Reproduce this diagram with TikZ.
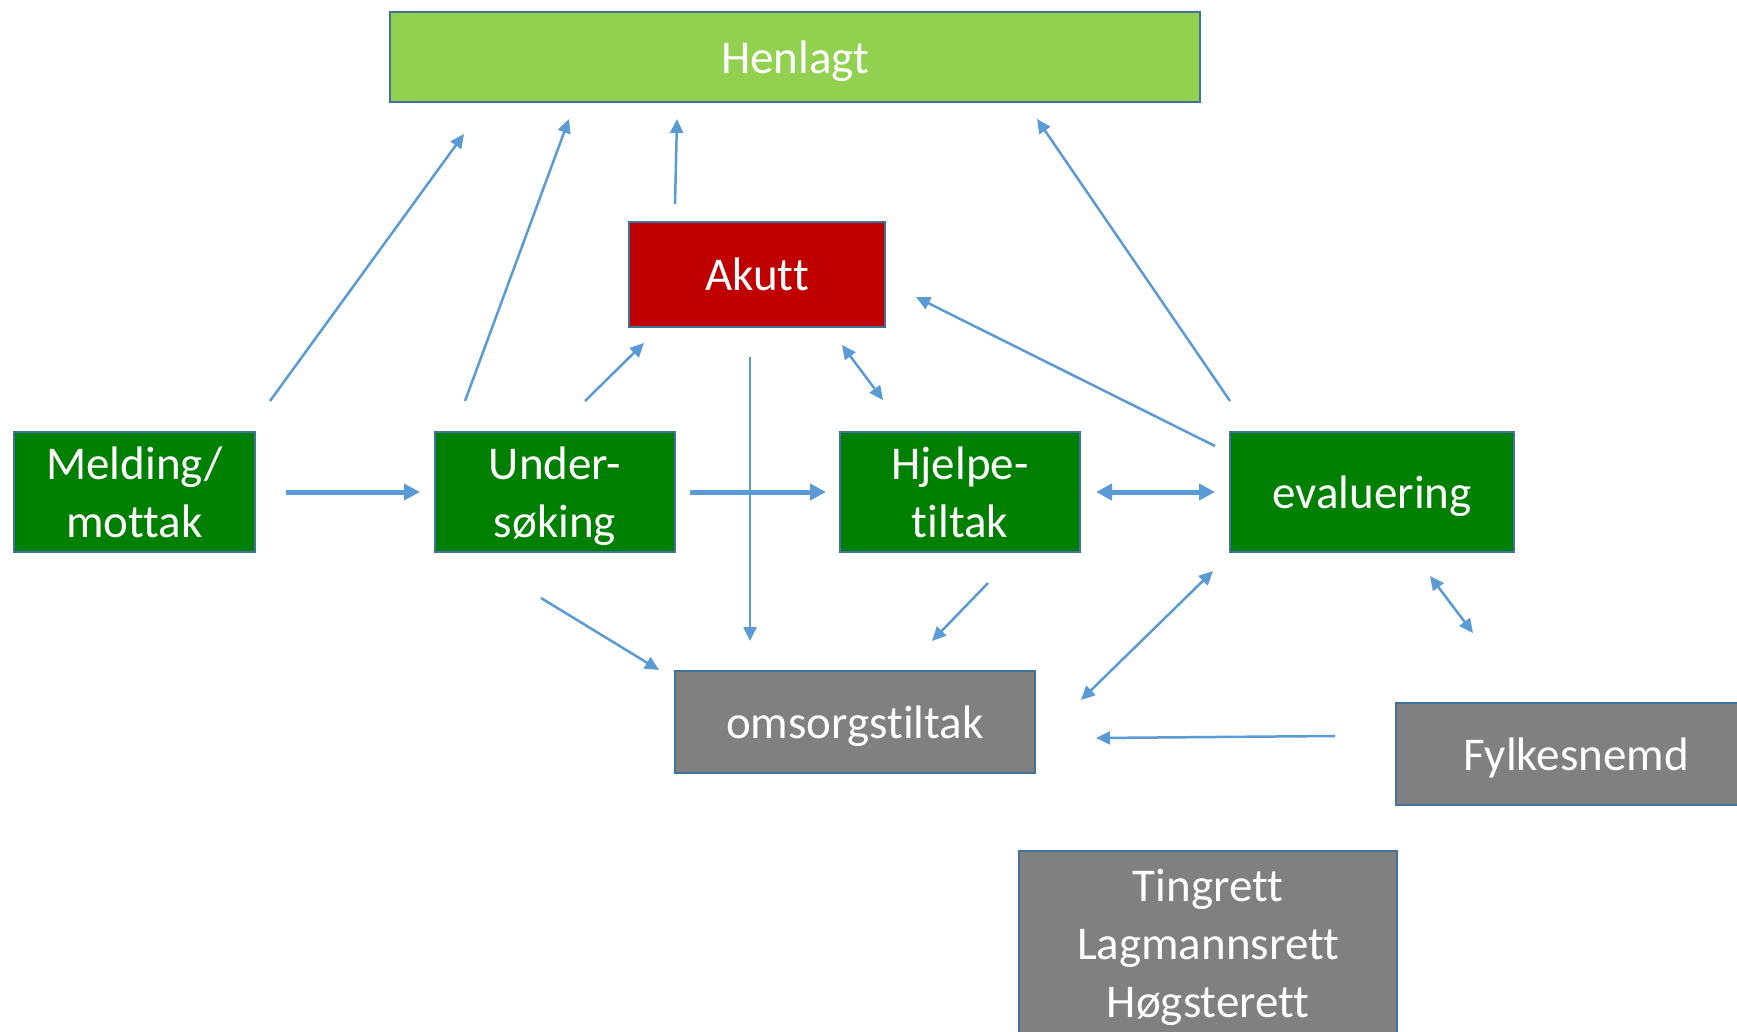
\documentclass[tikz,border=0pt]{standalone}
\usepackage{fontspec}
\setmainfont{Carlito}[Ligatures={NoCommon}]
\usetikzlibrary{arrows.meta}
\definecolor{lgreen}{HTML}{92D050}
\definecolor{dgreen}{HTML}{008000}
\definecolor{akred}{HTML}{C00000}
\definecolor{boxgray}{HTML}{808080}
\definecolor{bord}{HTML}{41719C}
\definecolor{arr}{HTML}{5B9BD5}
\tikzset{
  box/.style={draw=bord, line width=2pt, text=white, align=center, inner sep=0pt,
    text depth=0pt, font=\fontsize{47}{58}\selectfont},
  thin/.style={draw=arr, line width=2.5pt, -{Triangle[length=14pt,width=13pt]}},
  thinb/.style={draw=arr, line width=2.5pt, {Triangle[length=14pt,width=13pt]}-{Triangle[length=14pt,width=13pt]}},
  thick/.style={draw=arr, line width=5pt, -{Triangle[length=16pt,width=16pt]}},
  thickb/.style={draw=arr, line width=5pt, {Triangle[length=16pt,width=16pt]}-{Triangle[length=16pt,width=16pt]}},
}
\begin{document}
\begin{tikzpicture}[x=1pt,y=-1pt]
\useasboundingbox[fill=white] (0,0) rectangle (1737,1031);
% boxes
\node[box, fill=lgreen, minimum width=810pt, minimum height=90pt] (henlagt) at (795,57) {Henlagt};
\node[box, fill=akred, minimum width=256pt, minimum height=105pt] (akutt) at (757,274.5) {Akutt};
\node[box, fill=dgreen, minimum width=241pt, minimum height=120pt] (melding) at (134.5,492) {Melding/\\mottak};
\node[box, fill=dgreen, minimum width=240pt, minimum height=120pt] (under) at (555,492) {Under-\\søking};
\node[box, fill=dgreen, minimum width=240pt, minimum height=120pt] (hjelpe) at (960,492) {Hjelpe-\\tiltak};
\node[box, fill=dgreen, minimum width=284pt, minimum height=120pt] (eval) at (1372,492) {evaluering};
\node[box, fill=boxgray, minimum width=360pt, minimum height=102pt] (omsorg) at (855,722) {omsorgstiltak};
\node[box, fill=boxgray, minimum width=360pt, minimum height=102pt] (fylkes) at (1576,754) {Fylkesnemd};
\node[box, fill=boxgray, minimum width=378pt, minimum height=188pt, text depth=4pt] (ting) at (1208,945) {Tingrett\\Lagmannsrett\\Høgsterett};
% connector end points
\coordinate (a1s) at (270,401);  \coordinate (a1e) at (464,134);
\coordinate (a2s) at (465,401);  \coordinate (a2e) at (569,119);
\coordinate (a3s) at (675,204);  \coordinate (a3e) at (677,119);
\coordinate (a4s) at (1230,401); \coordinate (a4e) at (1037,119);
\coordinate (a5s) at (585,401);  \coordinate (a5e) at (644,343);
\coordinate (a6s) at (842,345);  \coordinate (a6e) at (883,400);
\coordinate (a7s) at (1215,446); \coordinate (a7e) at (916,297);
\coordinate (a8s) at (750,357);  \coordinate (a8e) at (750,641);
\coordinate (a9s) at (286,492);  \coordinate (a9e) at (420,492);
\coordinate (a10s) at (690,492); \coordinate (a10e) at (826,492);
\coordinate (a11s) at (1096,492); \coordinate (a11e) at (1215,492);
\coordinate (a12s) at (541,598); \coordinate (a12e) at (659,670);
\coordinate (a13s) at (988,583); \coordinate (a13e) at (932,641);
\coordinate (a14s) at (1213,571); \coordinate (a14e) at (1081,700);
\coordinate (a15s) at (1430,576); \coordinate (a15e) at (1473,633);
\coordinate (a16s) at (1335,736); \coordinate (a16e) at (1096,738);
% connectors
\draw[thin] (a1s) -- (a1e);
\draw[thin] (a2s) -- (a2e);
\draw[thin] (a3s) -- (a3e);
\draw[thin] (a4s) -- (a4e);
\draw[thin] (a5s) -- (a5e);
\draw[thinb] (a6s) -- (a6e);
\draw[thin] (a7s) -- (a7e);
\draw[thin] (a8s) -- (a8e);
\draw[thick] (a9s) -- (a9e);
\draw[thick] (a10s) -- (a10e);
\draw[thickb] (a11s) -- (a11e);
\draw[thin] (a12s) -- (a12e);
\draw[thin] (a13s) -- (a13e);
\draw[thinb] (a14s) -- (a14e);
\draw[thinb] (a15s) -- (a15e);
\draw[thin] (a16s) -- (a16e);
\end{tikzpicture}
\end{document}
